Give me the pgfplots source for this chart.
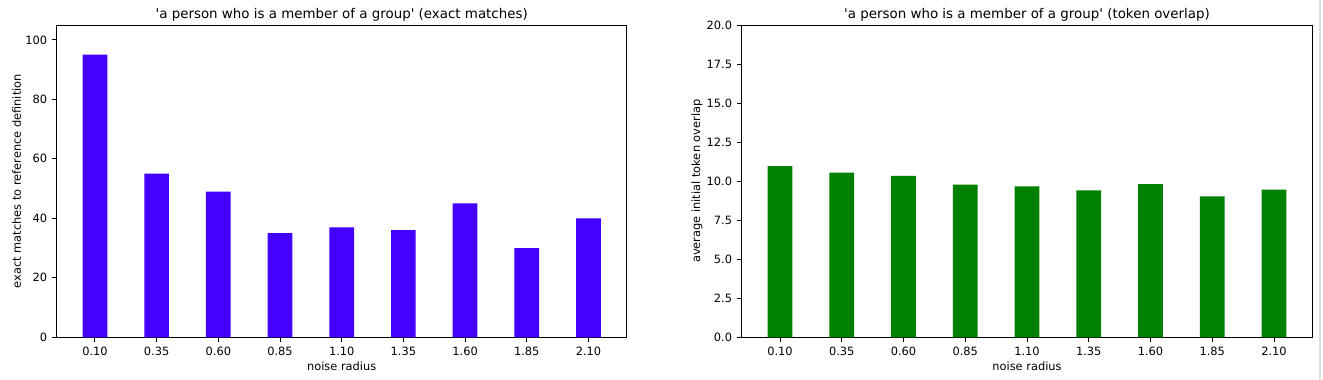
\documentclass[border=0pt]{standalone}
\usepackage{pgfplots}
\pgfplotsset{compat=1.18}
\usepackage{fontspec}
\setmainfont{DejaVu Sans}[Ligatures=TeXOff]
\definecolor{barblue}{RGB}{68,0,255}
\definecolor{bargreen}{RGB}{0,130,0}
\pgfplotstableread{
x y
0 95
1 55
2 49
3 35
4 37
5 36
6 45
7 30
8 40
}\exacttable
\pgfplotstableread{
x y
0 10.97
1 10.55
2 10.33
3 9.78
4 9.66
5 9.41
6 9.81
7 9.03
8 9.46
}\overlaptable
\pgfplotsset{
  common/.style={
    scale only axis,
    width=570pt, height=312.3pt,
    anchor=south west,
    ybar, bar width=0.4,
    xmin=-0.62, xmax=8.62, ymin=0,
    xtick={0,...,8},
    xticklabels={0.10,0.35,0.60,0.85,1.10,1.35,1.60,1.85,2.10},
    tick pos=left,
    tick align=outside,
    major tick length=5pt,
    axis line style={line width=0.9pt},
    every tick/.style={black, line width=0.9pt},
    /pgf/number format/assume math mode=true,
    tick label style={font=\fontsize{11.4}{13}\selectfont},
    xticklabel style={inner sep=0pt, anchor=north, yshift=-4.4pt},
    yticklabel style={inner sep=0pt, anchor=east, xshift=-4.4pt},
    every axis x label/.style={at={(axis description cs:0.5,-0.0929)}, anchor=center, font=\fontsize{11.4}{13}\selectfont},
    every axis title/.style={at={(axis description cs:0.5,1.033)}, anchor=center, font=\fontsize{13.4}{15}\selectfont},
    xlabel={noise radius},
  }
}
\begin{document}
\begin{tikzpicture}[x=1pt,y=1pt]
\path[use as bounding box] (0,0) rectangle (1323,380);
\fill[black!12] (1318.5,0) rectangle (1321,380);
\begin{axis}[common,
  at={(56.7pt,42.7pt)},
  ymax=105,
  ytick={0,20,40,60,80,100},
  every axis y label/.style={at={(axis description cs:-0.0702,0.5)}, rotate=90, anchor=center, font=\fontsize{11.4}{13}\selectfont},
  ylabel={exact matches to reference definition},
  title={'a person who is a member of a group' (exact matches)},
]
\addplot[fill=barblue, draw=none] table[x=x,y=y] {\exacttable};
\end{axis}
\begin{axis}[common,
  at={(741.7pt,42.7pt)},
  width=570.6pt,
  ymax=20,
  ytick={0,2.5,5,7.5,10,12.5,15,17.5,20},
  yticklabel style={/pgf/number format/.cd, fixed, fixed zerofill, precision=1},
  every axis y label/.style={at={(axis description cs:-0.0783,0.5)}, rotate=90, anchor=center, font=\fontsize{11.4}{13}\selectfont},
  ylabel={average initial token overlap},
  title={'a person who is a member of a group' (token overlap)},
]
\addplot[fill=bargreen, draw=none] table[x=x,y=y] {\overlaptable};
\end{axis}
\end{tikzpicture}
\end{document}
